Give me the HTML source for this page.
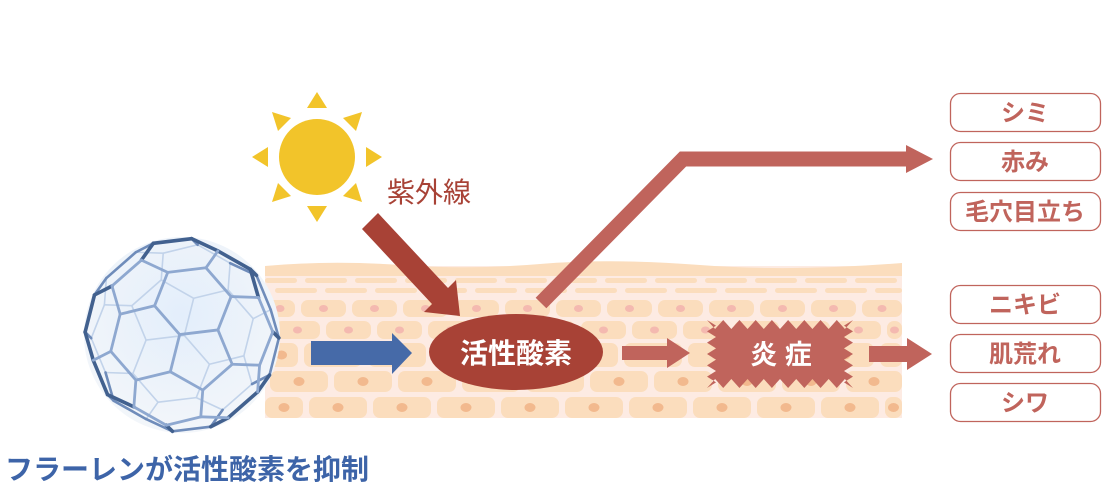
<!DOCTYPE html>
<html><head><meta charset="utf-8"><style>
html,body{margin:0;padding:0;background:#fff;width:1111px;height:491px;overflow:hidden}
svg{display:block}
text{font-family:"Liberation Sans","Noto Sans CJK JP",sans-serif}
</style></head><body>
<svg id="s" width="1111" height="491" viewBox="0 0 1111 491" xmlns="http://www.w3.org/2000/svg">
<defs>
<radialGradient id="bg" cx="0.5" cy="0.4" r="0.6"><stop offset="0" stop-color="#e3eefb"/><stop offset="1" stop-color="#f3f6fa"/></radialGradient>
</defs>
<!-- skin -->
<rect x="265" y="266" width="637" height="152" fill="#fdebe3"/>
<path d="M265 266 Q330 260 400 265 T540 264 T700 265 T902 263 L902 276 L265 276Z" fill="#fbddbd"/>
<g id="cells"></g>
<!-- sun -->
<g fill="#f2c42a">
<circle cx="317" cy="157" r="38"/>
<polygon points="317,92 307,108 327,108"/><polygon points="317,222 307,206 327,206"/>
<polygon points="252,157 268,147 268,167"/><polygon points="382,157 366,147 366,167"/>
<polygon points="272,112 291,118 278,131"/><polygon points="362,112 343,118 356,131"/>
<polygon points="272,202 291,196 278,183"/><polygon points="362,202 343,196 356,183"/>
</g>
<text x="387" y="202" font-size="28" fill="#a84236">紫外線</text>
<!-- UV arrow -->
<polygon points="362,229 378,213 448,288 456,280 460,316 424,312 432,304" fill="#a84236"/>
<!-- long arrow -->
<polyline points="541,303 683,159 908,159" fill="none" stroke="#c0645c" stroke-width="15"/>
<polygon points="906,145 933,159 906,173" fill="#c0645c"/>
<!-- blue arrow -->
<polygon points="311,341 392,341 392,333 412,353 392,374 392,365 311,365" fill="#466aa8"/>
<!-- ellipse -->
<ellipse cx="516" cy="352" rx="87" ry="38" fill="#a84236"/>
<text x="516" y="363" font-size="28" font-weight="bold" fill="#fff" text-anchor="middle">活性酸素</text>
<!-- arrow 2 -->
<polygon points="622,346 667,346 667,338 690,353 667,368 667,360 622,360" fill="#c0645c"/>
<!-- jagged -->
<polygon id="jag" fill="#c0645c"/>
<text x="781" y="364" font-size="27" font-weight="bold" fill="#fff" text-anchor="middle">炎 症</text>
<polygon points="869,346 907,346 907,338 932,354 907,370 907,362 869,362" fill="#c0645c"/>
<!-- boxes -->
<g fill="#fff" stroke="#c0645c" stroke-width="1.3">
<rect x="950.5" y="93.5" width="150" height="38" rx="10"/>
<rect x="950.5" y="142.5" width="150" height="38" rx="10"/>
<rect x="950.5" y="192.5" width="150" height="38" rx="10"/>
<rect x="950.5" y="285.5" width="150" height="38" rx="10"/>
<rect x="950.5" y="334.5" width="150" height="38" rx="10"/>
<rect x="950.5" y="383.5" width="150" height="38" rx="10"/>
</g>
<g font-size="24" font-weight="bold" fill="#c0645c" text-anchor="middle">
<text x="1025" y="121">シミ</text>
<text x="1025" y="170">赤み</text>
<text x="1025" y="220">毛穴目立ち</text>
<text x="1025" y="313">ニキビ</text>
<text x="1025" y="362">肌荒れ</text>
<text x="1025" y="411">シワ</text>
</g>
<!-- fullerene -->
<circle cx="182" cy="335" r="98" fill="url(#bg)"/>
<g id="ful" fill="none" stroke-linecap="round"></g>
<text x="5" y="479" font-size="28" font-weight="bold" fill="#3d64a8">フラーレンが活性酸素を抑制</text>
</svg>
<script>
var NS="http://www.w3.org/2000/svg";
function el(p,t,a){var e=document.createElementNS(NS,t);for(var k in a)e.setAttribute(k,a[k]);p.appendChild(e);return e;}
var c=document.getElementById('cells');
function row(y,h,w,gap,off,fill,nuc,nr){for(var x=265+off;x<902;x+=w+gap){var x0=Math.max(x,265),x1=Math.min(x+w,902);if(x1-x0<6)continue;
el(c,'rect',{x:x0,y:y,width:x1-x0,height:h,rx:Math.min(h/2,7),fill:fill});
if(nuc&&(x0+x1)/2>268&&(x0+x1)/2<899)el(c,'ellipse',{cx:(x0+x1)/2,cy:y+h/2,rx:nr+1,ry:nr,fill:nuc});}}
row(278,5,42,8,-10,'#fbddbd');
row(288,5,42,8,10,'#fbddbd');
row(300,17,45,6,-15,'#fbddbd','#f4b9b0',3.5);
row(321,18,45,6,10,'#fbddbd','#f4b9b0',3.5);
row(343,24,58,6,-25,'#fbddbd','#f2b98e',4.5);
row(371,21,58,6,5,'#fbddbd','#f2b98e',4.5);
row(397,21,58,6,-20,'#fbddbd','#f2b98e',4.5);
// jagged
var pts=[],x0=707,x1=853,y0=320,y1=388,n=9,i;
for(i=0;i<=n;i++){pts.push([x0+(x1-x0)*i/n,y0]);if(i<n)pts.push([x0+(x1-x0)*(i+.5)/n,y0+9]);}
var m=6;
for(i=1;i<=m;i++){pts.push([x1-9,y0+(y1-y0)*(i-.5)/m]);pts.push([x1,y0+(y1-y0)*i/m]);}
for(i=n;i>=0;i--){pts.push([x0+(x1-x0)*i/n,y1]);if(i>0)pts.push([x0+(x1-x0)*(i-.5)/n,y1-9]);}
for(i=m-1;i>=0;i--){pts.push([x0+9,y0+(y1-y0)*(i+.5)/m]);pts.push([x0,y0+(y1-y0)*i/m]);}
document.getElementById('jag').setAttribute('points',pts.map(function(p){return p.join(',')}).join(' '));
// truncated icosahedron
var ph=(1+Math.sqrt(5))/2,V=[];
function perms(a){return [[a[0],a[1],a[2]],[a[1],a[2],a[0]],[a[2],a[0],a[1]]];}
function signs(a,cb){[1,-1].forEach(function(s0){[1,-1].forEach(function(s1){[1,-1].forEach(function(s2){cb([a[0]*s0,a[1]*s1,a[2]*s2]);});});});}
[[0,1,3*ph],[1,2+ph,2*ph],[ph,2,ph*ph*ph]].forEach(function(b){perms(b).forEach(function(p){signs(p,function(v){
if(!V.some(function(u){return Math.abs(u[0]-v[0])+Math.abs(u[1]-v[1])+Math.abs(u[2]-v[2])<1e-6}))V.push(v);});});});
var ax=Math.atan2(1,ph);
function rot(v){var x=v[0],y=v[1],z=v[2];
var y1=y*Math.cos(ax)-z*Math.sin(ax),z1=y*Math.sin(ax)+z*Math.cos(ax);y=y1;z=z1;
var t=0.28;var y2=y*Math.cos(t)-z*Math.sin(t),z2=y*Math.sin(t)+z*Math.cos(t);y=y2;z=z2;
var u=-0.18;var x3=x*Math.cos(u)-z*Math.sin(u),z3=x*Math.sin(u)+z*Math.cos(u);x=x3;z=z3;
var r=0.12;var x4=x*Math.cos(r)-y*Math.sin(r),y4=x*Math.sin(r)+y*Math.cos(r);return [x4,y4,z];}
var W=V.map(rot),Rm=Math.sqrt(9*ph*ph+1),sc=97/Rm,cx=182,cy=335;
var f=document.getElementById('ful'),E=[];
for(var a=0;a<W.length;a++)for(var b=a+1;b<W.length;b++){var d=0;for(var k=0;k<3;k++)d+=(V[a][k]-V[b][k])*(V[a][k]-V[b][k]);
if(Math.abs(d-4)<1e-3)E.push([a,b,(W[a][2]+W[b][2])/2]);}
E.sort(function(p,q){return p[2]-q[2]});
E.forEach(function(e){var A=W[e[0]],B=W[e[1]],z=e[2]/Rm;
var front=z>0, rim=Math.abs(z)<0.35;
var col=front?(rim?'#42618f':'#8ea8d0'):'#c2d3ea';
var w=front?(rim?3.6:2.8):1.6;
if(rim&&!front){col='#6f8cba';w=2.6;}
el(f,'line',{x1:cx+A[0]*sc,y1:cy-A[1]*sc,x2:cx+B[0]*sc,y2:cy-B[1]*sc,stroke:col,'stroke-width':w});});
</script>
</body></html>
